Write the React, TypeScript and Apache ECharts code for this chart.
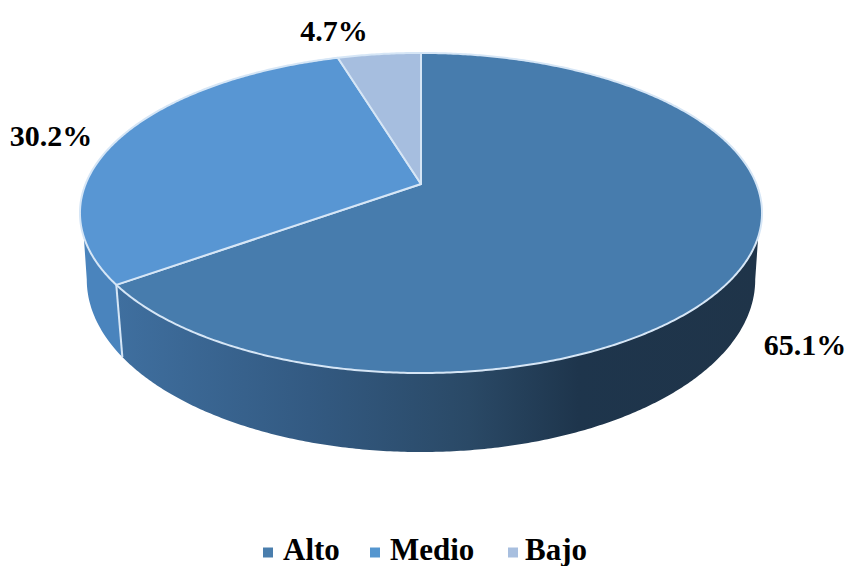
import React, { useEffect, useRef } from "react";
import * as echarts from "echarts";

const categories = ["Alto", "Medio", "Bajo"];
const values = [65.1, 30.2, 4.7];
const labels = ["65.1%", "30.2%", "4.7%"];
const topColors = ["#477cad", "#5896d3", "#a6bedf"];
const legendColors = ["#4a7ead", "#5596cf", "#a8bfdf"];
const legendLeft = [258, 365, 503];
const legendPadLeft = [5, 5, 2];

const labelPos = [
  [805, 344],
  [51, 135],
  [334, 30],
];

// Perspective disc model
const CX = 421;
const K = 0.181;
const top = { a: 335.4, b: 154.8, cy: 184 };
const low = { a: 328.7, b: 166.7, cy: 248.5 };
const TOP_MIN = 108.8;
const TOP_MAX = 251.2;
const LOW_MIN = 100.4;
const LOW_MAX = 259.6;
const RIM = "#d6e6f6";
const SERIF = '"Liberation Serif", "Times New Roman", serif';

const pt = (ring: typeof top, deg: number): [number, number] => {
  const r = (deg * Math.PI) / 180;
  const u = Math.sin(r);
  const v = Math.cos(r);
  const w = 1 + K * v;
  return [CX + (ring.a * u) / w, ring.cy - (ring.b * v) / w];
};

const arc = (ring: typeof top, from: number, to: number) => {
  const out: [number, number][] = [];
  const n = Math.max(2, Math.ceil(Math.abs(to - from) / 0.5));
  for (let i = 0; i <= n; i++) out.push(pt(ring, from + ((to - from) * i) / n));
  return out;
};

const total = values.reduce((a, b) => a + b, 0);

const sideFill = (index: number): any =>
  index === 0
    ? {
        type: "linear",
        x: 0,
        y: 0,
        x2: 1,
        y2: 0,
        colorStops: [
          { offset: 0, color: "#3f6f9f" },
          { offset: 0.3, color: "#335a82" },
          { offset: 0.55, color: "#2a4966" },
          { offset: 0.72, color: "#1e354c" },
          { offset: 1, color: "#1f3449" },
        ],
      }
    : "#4a84bd";

const makeRender = (index: number) => (_params: any, api: any) => {
  const value = api.value(0) as number;
  const before = values.slice(0, index).reduce((a, b) => a + b, 0);
  const a0 = (before / total) * 360;
  const a1 = ((before + value) / total) * 360;
  const children: any[] = [];

  const tFrom = Math.max(a0, TOP_MIN);
  const tTo = Math.min(a1, TOP_MAX);
  if (tTo > tFrom) {
    const lFrom = a0 > TOP_MIN ? a0 : LOW_MIN;
    const lTo = a1 < TOP_MAX ? a1 : LOW_MAX;
    children.push({
      type: "polygon",
      shape: { points: [...arc(top, tFrom, tTo), ...arc(low, lTo, lFrom)] },
      style: { fill: sideFill(index), stroke: "none" },
    });
    if (a1 < TOP_MAX) {
      const p = pt(top, a1);
      const q = pt(low, a1);
      children.push({
        type: "line",
        z2: 5,
        shape: { x1: p[0], y1: p[1], x2: q[0], y2: q[1] },
        style: { stroke: RIM, lineWidth: 2 },
      });
    }
  }

  children.push({
    type: "polygon",
    z2: 10,
    shape: { points: [[CX, top.cy], ...arc(top, a0, a1)] },
    style: { fill: topColors[index], stroke: RIM, lineWidth: 2, lineJoin: "round" },
  });

  children.push({
    type: "text",
    z2: 20,
    style: {
      text: labels[index],
      x: labelPos[index][0],
      y: labelPos[index][1],
      align: "center",
      verticalAlign: "middle",
      textAlign: "center",
      textVerticalAlign: "middle",
      fill: "#000000",
      fontFamily: SERIF,
      fontWeight: "bold",
      fontSize: 30,
    },
  });

  return { type: "group", children };
};

export default function App() {
  const ref = useRef<HTMLDivElement>(null);
  useEffect(() => {
    const chart = echarts.init(ref.current!, undefined, { renderer: "svg" });
    chart.setOption({
      animation: false,
      backgroundColor: "#ffffff",
      legend: categories.map((name, i) => ({
        data: [name],
        left: legendLeft[i],
        top: 529,
        icon: "path://M0 0L0 0M0 6L10 6L10 16L0 16Z",
        itemWidth: 10,
        itemHeight: 16,
        selectedMode: false,
        textStyle: {
          color: "#000000",
          fontFamily: SERIF,
          fontWeight: "bold",
          fontSize: 31,
          padding: [0, 0, 0, legendPadLeft[i]],
        },
      })),
      series: categories.map((name, i) => ({
        type: "custom",
        name,
        coordinateSystem: "none",
        silent: true,
        clip: false,
        itemStyle: { color: legendColors[i] },
        data: [[values[i]]],
        renderItem: makeRender(i),
      })),
    });
    return () => chart.dispose();
  }, []);
  return (
    <div
      ref={ref}
      style={{ position: "absolute", left: 0, top: 0, width: 850, height: 566 }}
    />
  );
}
